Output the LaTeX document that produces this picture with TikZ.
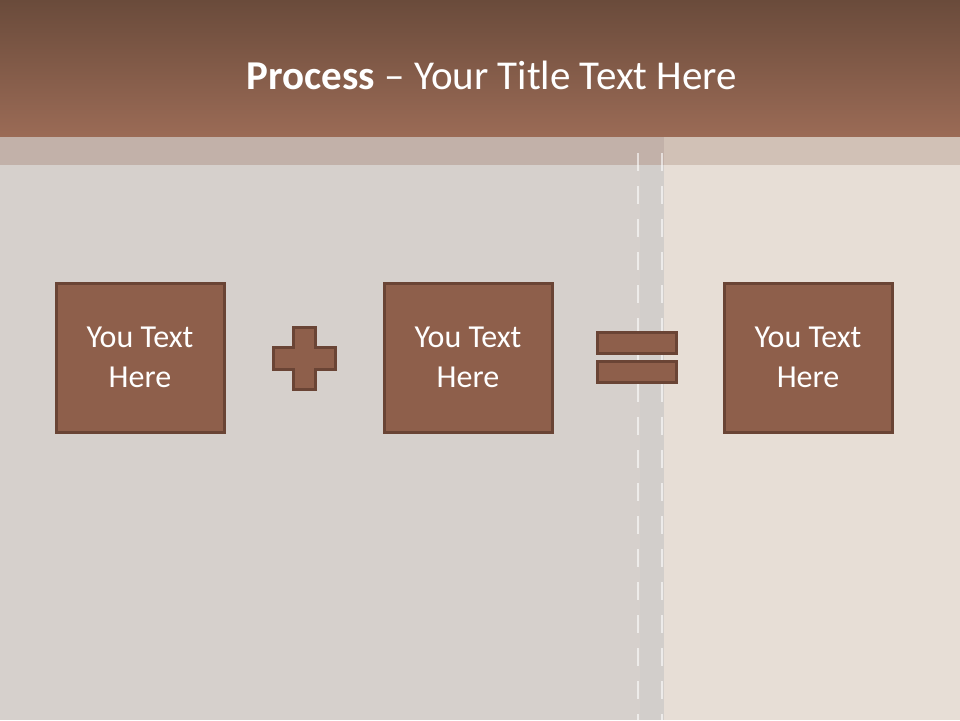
\documentclass[tikz,border=0pt]{standalone}
\usepackage{fontspec}
\setmainfont{Carlito}
\begin{document}
\begin{tikzpicture}[x=1pt,y=-1pt,
  boxstyle/.style={draw=boxline,line width=3pt,fill=boxfill,minimum width=168pt,minimum height=149pt,inner sep=0pt,text=white,font=\fontsize{32}{40}\selectfont,align=center},
  symstyle/.style={draw=boxline,line width=3pt,fill=boxfill},
  stitch/.style={draw=white,line width=1.8pt,dash pattern=on 18pt off 15pt,opacity=0.6}]
\definecolor{boxfill}{HTML}{8E5F4B}
\definecolor{boxline}{HTML}{6A4435}
\definecolor{bgleft}{HTML}{D6D0CC}
\definecolor{bgright}{HTML}{E7DED6}
\definecolor{seam}{HTML}{D2CECB}
\definecolor{headtop}{HTML}{6A4B3B}
\definecolor{headbot}{HTML}{9B6B56}
\definecolor{bandleft}{HTML}{C2B1A9}
\definecolor{bandright}{HTML}{D1C1B6}
\useasboundingbox (0,0) rectangle (960,720);
% background
\fill[bgleft] (0,0) rectangle (640,720);
\fill[bgright] (640,0) rectangle (960,720);
\fill[seam] (640,0) rectangle (664,720);
% header
\shade[top color=headtop,bottom color=headbot] (0,0) rectangle (960,137);
\fill[bandleft] (0,137) rectangle (664,165);
\fill[bandright] (664,137) rectangle (960,165);
% stitches
\draw[stitch] (638,153) -- (638,720);
\draw[stitch] (662,153) -- (662,720);
% title
\node[text=white,font=\fontsize{41}{44}\selectfont] (title) at (492,75) {\textbf{Process} – Your Title Text Here};
% boxes
\node[boxstyle] (b1) at (140,357.5) {You Text\\Here};
\node[boxstyle] (b2) at (468,357.5) {You Text\\Here};
\node[boxstyle] (b3) at (808,357.5) {You Text\\Here};
% plus
\draw[symstyle] (293,327) -- (315,327) -- (315,347) -- (335,347) -- (335,369) -- (315,369) -- (315,389) -- (293,389) -- (293,369) -- (273,369) -- (273,347) -- (293,347) -- cycle;
% equals
\draw[symstyle] (597,332) rectangle (676,353);
\draw[symstyle] (597,361) rectangle (676,382);
\end{tikzpicture}
\end{document}
